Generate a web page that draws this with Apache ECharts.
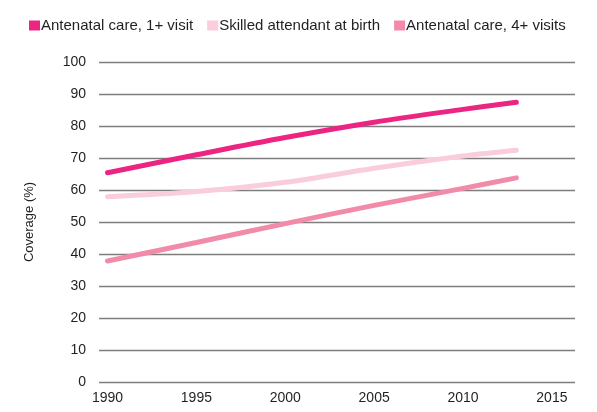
<!DOCTYPE html>
<html>
<head>
<meta charset="utf-8">
<style>
  html, body { margin: 0; padding: 0; background: #fff; }
  #chart { width: 597px; height: 412px; }
</style>
<script src="https://cdn.jsdelivr.net/npm/echarts@6/dist/echarts.min.js"></script>
</head>
<body>
<div id="chart"></div>
<script>
// Coverage of maternal health interventions over time (%)
const years = [1990, 1995, 2000, 2005, 2010, 2013];
const anc1 = [65.4, 71.0, 76.4, 81.2, 85.2, 87.4];
const skilled = [57.9, 59.5, 62.4, 66.8, 70.6, 72.4];
const anc4 = [37.8, 43.6, 49.5, 55.2, 60.5, 63.8];
const xTicks = [1990, 1995, 2000, 2005, 2010, 2015];
const yTicks = [0, 10, 20, 30, 40, 50, 60, 70, 80, 90, 100];

const seriesNames = ['Antenatal care, 1+ visit', 'Skilled attendant at birth', 'Antenatal care, 4+ visits'];
const seriesColors = ['#ec2583', '#f9cdd9', '#f28aa9'];
const seriesValues = [anc1, skilled, anc4];

const baseFont = 'Arial, "Liberation Sans", sans-serif';

const chart = echarts.init(document.getElementById('chart'));
chart.setOption({
  animation: false,
  backgroundColor: '#fff',
  legend: {
    left: 24,
    top: 13,
    itemWidth: 11,
    itemHeight: 10,
    itemGap: 14,
    icon: 'rect',
    textStyle: { fontFamily: baseFont, fontSize: 15, color: '#231f20', padding: [0, 0, 0, -4] },
    data: seriesNames.map((n, i) => ({ name: n, itemStyle: { color: seriesColors[i] } }))
  },
  grid: { left: 99, right: 22, top: 62, bottom: 30, containLabel: false },
  xAxis: {
    type: 'value',
    min: 1989.52,
    max: 2016.3,
    axisLine: { show: false },
    axisTick: { show: false },
    splitLine: { show: false },
    axisLabel: {
      customValues: xTicks,
      formatter: v => String(v),
      margin: 9,
      fontFamily: baseFont,
      fontSize: 14,
      color: '#231f20'
    }
  },
  yAxis: {
    type: 'value',
    min: 0,
    max: 100,
    interval: 10,
    name: 'Coverage (%)',
    nameLocation: 'middle',
    nameRotate: 90,
    nameGap: 63,
    nameTextStyle: { fontFamily: '"Liberation Sans Narrow", Arial, sans-serif', fontSize: 13, color: '#231f20' },
    axisLine: { show: false },
    axisTick: { show: false },
    axisLabel: {
      customValues: yTicks,
      margin: 13,
      fontFamily: baseFont,
      fontSize: 14,
      color: '#231f20'
    },
    splitLine: { show: true, lineStyle: { color: '#7d7d7d', width: 1.3 } }
  },
  series: seriesNames.map((n, i) => ({
    name: n,
    type: 'line',
    smooth: 0.35,
    symbol: 'none',
    color: seriesColors[i],
    lineStyle: { width: 5, color: seriesColors[i], cap: 'round' },
    data: years.map((y, k) => [y, seriesValues[i][k]])
  }))
});
</script>
</body>
</html>
